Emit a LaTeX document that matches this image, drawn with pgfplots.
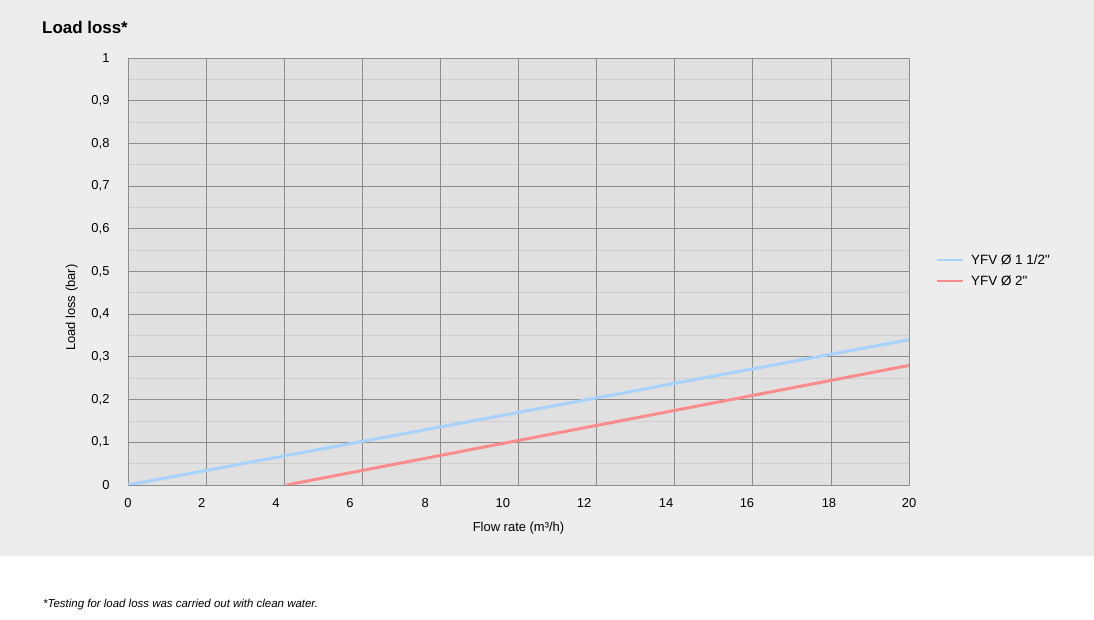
\documentclass[border=0pt]{standalone}
\usepackage{fontspec}
\setmainfont{Liberation Sans}
\usepackage{pgfplots}
\pgfplotsset{compat=1.18}

\definecolor{panel}{HTML}{EDEDED}
\definecolor{plotbg}{HTML}{E0E0E0}
\definecolor{gridmaj}{HTML}{8C8C8C}
\definecolor{gridmin}{HTML}{CFCFCF}
\definecolor{lblue}{HTML}{A6D2FC}
\definecolor{lred}{HTML}{FA8C8C}

\begin{document}
\begin{tikzpicture}[x=1bp,y=1bp]
\useasboundingbox (0,0) rectangle (1094,620);
\fill[white] (0,0) rectangle (1094,620);
\fill[panel] (0,64) rectangle (1094,620);
\node[anchor=west,inner sep=0,font=\bfseries\fontsize{17}{20}\selectfont] at (42,593) {Load loss*};
\node[anchor=west,inner sep=0,font=\itshape\fontsize{11.5}{13}\selectfont] at (43,15) {*Testing for load loss was carried out with clean water.};

\begin{axis}[
	at={(128bp,135bp)}, anchor=south west,
	scale only axis, width=781bp, height=427bp,
	xmin=0, xmax=20, ymin=0, ymax=1,
	axis background/.style={fill=plotbg},
	axis line style={draw=gridmaj, line width=0.8bp},
	tick style={draw=none},
	major tick length=0pt, minor tick length=0pt,
	% labels sit where the original puts them, grid lines sit on the even values
	xtick={0,1.887,3.79,5.685,7.61,9.6,11.68,13.78,15.85,17.95,20},
	xticklabels={0,2,4,6,8,10,12,14,16,18,20},
	extra x ticks={0,2,4,6,8,10,12,14,16,18,20},
	extra x tick labels={},
	extra x tick style={grid=major},
	ytick={0,0.1,0.2,0.3,0.4,0.5,0.6,0.7,0.8,0.9,1},
	minor y tick num=1,
	ymajorgrids, yminorgrids,
	major grid style={draw=gridmaj, line width=0.8bp},
	minor grid style={draw=gridmin, line width=0.8bp},
	ticklabel style={font=\fontsize{13}{15}\selectfont},
	xticklabel style={yshift=-10bp},
	yticklabel style={xshift=-15bp},
	/pgf/number format/assume math mode=true,
	yticklabel style={/pgf/number format/.cd, use comma, fixed, precision=1},
	xlabel={Flow rate (m³/h)},
	ylabel={Load loss (bar)},
	label style={font=\fontsize{13}{15}\selectfont},
	xlabel style={at={(axis description cs:0.5,-0.1)}, anchor=center},
	ylabel style={at={(axis description cs:-0.072,0.415)}, anchor=center},
	legend style={draw=none, fill=none, at={(axis description cs:1.030,0.502)},
		anchor=west, font=\fontsize{13.5}{15}\selectfont, row sep=6bp},
	legend cell align=left,
	legend image code/.code={\draw[#1, line width=2bp] (0bp,0bp) -- (26bp,0bp);
		\path (31bp,0bp);},
]
\addplot[lblue, line width=3bp] coordinates {(0,0) (20,0.34)};
\addplot[lred, line width=3bp] coordinates {(4.06,0) (20,0.28)};
\legend{YFV Ø 1 1/2\textquotedbl, YFV Ø 2\textquotedbl}
\end{axis}
\end{tikzpicture}
\end{document}
